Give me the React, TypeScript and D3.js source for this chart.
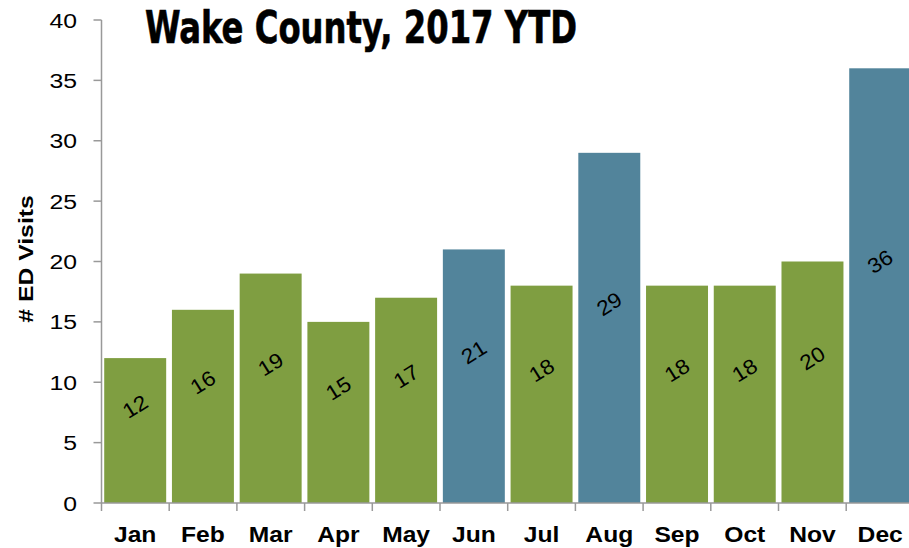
import React, { useEffect, useRef } from 'react';
import * as d3 from 'd3';

const months = ['Jan', 'Feb', 'Mar', 'Apr', 'May', 'Jun', 'Jul', 'Aug', 'Sep', 'Oct', 'Nov', 'Dec'];
const visits = [12, 16, 19, 15, 17, 21, 18, 29, 18, 18, 20, 36];
const highlighted = ['Jun', 'Aug', 'Dec'];
const yTicks = [0, 5, 10, 15, 20, 25, 30, 35, 40];

const GREEN = '#7f9e41';
const BLUE = '#52849b';
const FONT = 'Liberation Sans, Arial, sans-serif';
const STRETCH = 1.18; // reference text renders wider than Arial

const App: React.FC = () => {
  const svgRef = useRef<SVGSVGElement>(null);

  useEffect(() => {
    if (!svgRef.current) return;
    const svg = d3.select(svgRef.current);
    svg.selectAll('*').remove();

    const left = 101.5;
    const step = 67.7;
    const x = d3.scaleBand<string>()
      .domain(months)
      .range([left, left + step * months.length])
      .paddingInner(0.085)
      .paddingOuter(0.04);
    const y = d3.scaleLinear().domain([0, 40]).range([503, 20]);

    // Bars
    svg.append('g')
      .selectAll('rect')
      .data(months)
      .enter().append('rect')
      .attr('x', d => x(d)!)
      .attr('width', x.bandwidth())
      .attr('y', (d, i) => y(visits[i]))
      .attr('height', (d, i) => y(0) - y(visits[i]))
      .attr('fill', d => highlighted.includes(d) ? BLUE : GREEN);

    // Value labels (rotated)
    svg.append('g')
      .selectAll('text')
      .data(months)
      .enter().append('text')
      .attr('transform', (d, i) =>
        `translate(${x(d)! + x.bandwidth() / 2},${y(visits[i] / 2) - 24}) rotate(-32) scale(1.08,1)`)
      .attr('text-anchor', 'middle')
      .attr('dominant-baseline', 'central')
      .attr('font-family', FONT)
      .attr('font-size', 21)
      .attr('fill', '#000')
      .text((d, i) => visits[i]);

    // Y axis
    const yAxis = svg.append('g');
    yAxis.append('line')
      .attr('x1', left).attr('x2', left)
      .attr('y1', y(0)).attr('y2', y(40))
      .attr('stroke', '#999').attr('stroke-width', 1.5);
    yAxis.selectAll('.yt')
      .data(yTicks)
      .enter().append('line')
      .attr('x1', left - 8).attr('x2', left)
      .attr('y1', d => y(d)).attr('y2', d => y(d))
      .attr('stroke', '#999').attr('stroke-width', 1.5);
    yAxis.selectAll('.yl')
      .data(yTicks)
      .enter().append('text')
      .attr('transform', d => `translate(77,${y(d) + 7.5}) scale(${STRETCH},1)`)
      .attr('text-anchor', 'end')
      .attr('font-family', FONT)
      .attr('font-size', 21)
      .attr('fill', '#000')
      .text(d => d);

    // X axis (ticks at band boundaries)
    const xAxisG = svg.append('g').attr('transform', `translate(0,${y(0)})`);
    xAxisG.append('line')
      .attr('x1', left).attr('x2', left + step * months.length)
      .attr('stroke', '#999').attr('stroke-width', 1.5);
    xAxisG.selectAll('.xt')
      .data(months)
      .enter().append('line')
      .attr('x1', (d, i) => left + step * i)
      .attr('x2', (d, i) => left + step * i)
      .attr('y1', 0).attr('y2', 8)
      .attr('stroke', '#999').attr('stroke-width', 1.5);
    xAxisG.selectAll('.xl')
      .data(months)
      .enter().append('text')
      .attr('transform', d => `translate(${x(d)! + x.bandwidth() / 2},39) scale(1.12,1)`)
      .attr('text-anchor', 'middle')
      .attr('font-family', FONT)
      .attr('font-weight', 'bold')
      .attr('font-size', 22)
      .attr('fill', '#000')
      .text(d => d);

    // Y axis title
    svg.append('text')
      .attr('transform', `translate(33,259) rotate(-90) scale(${STRETCH},1)`)
      .attr('text-anchor', 'middle')
      .attr('font-family', FONT)
      .attr('font-weight', 'bold')
      .attr('font-size', 21)
      .attr('fill', '#000')
      .text('# ED Visits');

    // Chart title
    svg.append('text')
      .attr('x', 145)
      .attr('y', 43)
      .attr('font-family', 'Liberation Sans Narrow, DejaVu Sans Condensed, sans-serif')
      .attr('font-weight', 'bold')
      .attr('font-size', 45)
      .attr('textLength', 432)
      .attr('lengthAdjust', 'spacingAndGlyphs')
      .attr('fill', '#000')
      .attr('stroke', '#000')
      .attr('stroke-width', 0.6)
      .text('Wake County, 2017 YTD');
  }, []);

  return (
    <svg
      ref={svgRef}
      width={909}
      height={548}
      style={{ position: 'absolute', left: 0, top: 0, background: '#fff', overflow: 'hidden' }}
    />
  );
};

export default App;
